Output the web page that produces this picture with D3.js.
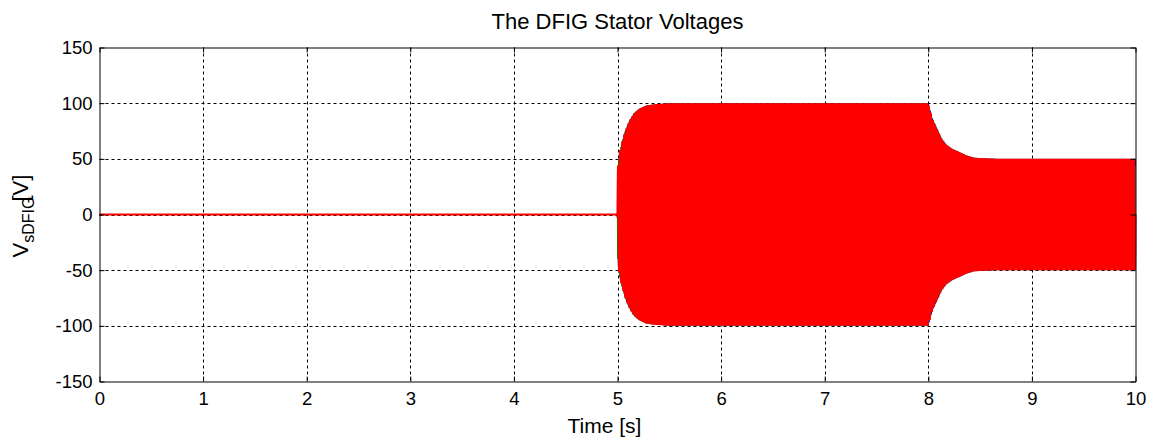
<!DOCTYPE html>
<html>
<head>
<meta charset="utf-8">
<script src="https://cdn.jsdelivr.net/npm/d3@7"></script>
<style>
  html, body { margin: 0; padding: 0; background: #fff; }
  svg { display: block; font-family: "Liberation Sans", Arial, sans-serif; }
</style>
</head>
<body>
<svg id="chart" width="1150" height="439"></svg>
<script>
// Axis ticks
const xTicks = [0, 1, 2, 3, 4, 5, 6, 7, 8, 9, 10];
const yTicks = [-150, -100, -50, 0, 50, 100, 150];

// Stator voltage envelope (peak amplitude in V) against time in s
const envTime = [0, 4.999, 5.0, 5.01, 5.02, 5.04, 5.07, 5.10, 5.12, 5.16, 5.21, 5.28, 5.36, 5.5,
                 8.0, 8.02, 8.04, 8.07, 8.10, 8.13, 8.17, 8.23, 8.30, 8.37, 8.44, 8.55, 8.68, 10];
const envAmp  = [0, 0, 38, 48, 56, 64, 74, 81, 85, 91, 95, 98, 99, 100,
                 100, 93, 86, 80, 74, 68, 63, 59, 56, 53, 51, 50.4, 50, 50];

// Three phases: drawing order, colour, line width and phase angle (deg)
const phaseNames  = ["b", "c", "a"];
const phaseColors = ["#0000ff", "#008000", "#ff0000"];
const phaseWidths = [1, 1, 2];
const phaseAngles = [-240, -120, 0];
const gridFreq = 50;        // Hz
const sampleStep = 0.0005;  // s

const svg = d3.select("#chart");
const margin = { left: 99.5, right: 14.5, top: 47.5, bottom: 57.5 };
const W = 1150, H = 439;
const FONT = "'Liberation Sans', Arial, sans-serif";

const x = d3.scaleLinear().domain([0, 10]).range([margin.left, W - margin.right]);
const y = d3.scaleLinear().domain([-150, 150]).range([H - margin.bottom, margin.top]);

// Grid
const grid = svg.append("g").attr("stroke", "#000").attr("stroke-width", 1)
  .attr("stroke-dasharray", "3,3");
grid.selectAll("line.gx").data(xTicks.slice(1, -1)).join("line")
  .attr("x1", d => Math.round(x(d)) + 0.5).attr("x2", d => Math.round(x(d)) + 0.5)
  .attr("y1", y(150)).attr("y2", y(-150));
grid.selectAll("line.gy").data(yTicks.slice(1, -1)).join("line")
  .attr("y1", d => Math.round(y(d)) + 0.5).attr("y2", d => Math.round(y(d)) + 0.5)
  .attr("x1", x(0)).attr("x2", x(10));

// Signals
const env = d3.scaleLinear().domain(envTime).range(envAmp).clamp(true);
const times = d3.range(0, 10 + sampleStep / 2, sampleStep);
const plot = svg.append("g");
phaseNames.forEach((name, i) => {
  const pts = times.map(t => [t, env(t) * Math.sin(2 * Math.PI * gridFreq * t + phaseAngles[i] * Math.PI / 180)]);
  plot.append("path")
    .datum(pts)
    .attr("class", "phase-" + name)
    .attr("fill", "none")
    .attr("stroke", phaseColors[i])
    .attr("stroke-width", phaseWidths[i])
    .attr("d", d3.line().x(d => x(d[0])).y(d => y(d[1])));
});

// Axes (box with inward ticks); plain hyphen for negative labels
const plain = d => String(d);
const tickLen = 5;
const axB = svg.append("g").attr("transform", `translate(0,${y(-150)})`)
  .call(d3.axisBottom(x).tickValues(xTicks).tickFormat(plain).tickSizeInner(-tickLen).tickSizeOuter(0).tickPadding(10));
const axT = svg.append("g").attr("transform", `translate(0,${y(150)})`)
  .call(d3.axisTop(x).tickValues(xTicks).tickSizeInner(-tickLen).tickSizeOuter(0).tickFormat(""));
const axL = svg.append("g").attr("transform", `translate(${x(0)},0)`)
  .call(d3.axisLeft(y).tickValues(yTicks).tickFormat(plain).tickSizeInner(-tickLen).tickSizeOuter(0).tickPadding(7));
const axR = svg.append("g").attr("transform", `translate(${x(10)},0)`)
  .call(d3.axisRight(y).tickValues(yTicks).tickSizeInner(-tickLen).tickSizeOuter(0).tickFormat(""));
[axB, axT, axL, axR].forEach(a => {
  a.select(".domain").attr("stroke", "#000");
  a.selectAll(".tick line").attr("stroke", "#000");
  a.selectAll(".tick text").attr("fill", "#000").attr("font-size", 18.5).attr("font-family", FONT);
});

// Title and labels
svg.append("text").attr("x", (x(0) + x(10)) / 2).attr("y", 29)
  .attr("text-anchor", "middle").attr("font-size", 22).text("The DFIG Stator Voltages");
svg.append("text").attr("x", (x(0) + x(10)) / 2 - 13).attr("y", 433)
  .attr("text-anchor", "middle").attr("font-size", 21).text("Time [s]");
const yl = svg.append("text").attr("transform", `translate(28,216) rotate(-90)`)
  .attr("text-anchor", "middle").attr("font-size", 22);
yl.append("tspan").text("V");
yl.append("tspan").attr("font-size", 16).attr("dy", 6).text("sDFIG");
yl.append("tspan").attr("dy", -6).attr("dx", -5).text("[V]");
</script>
</body>
</html>
